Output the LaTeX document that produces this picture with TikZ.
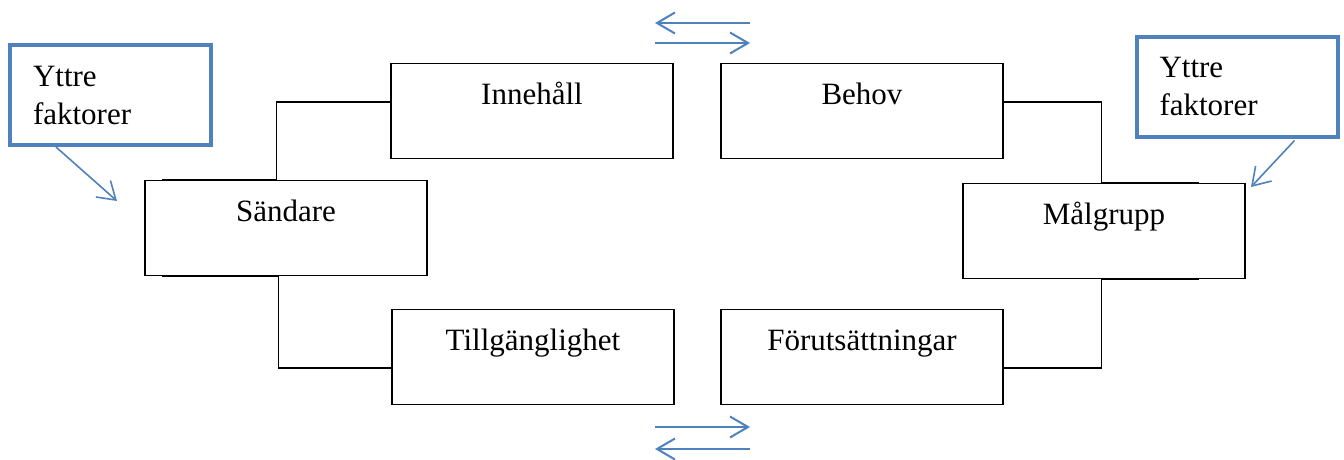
\documentclass[tikz,border=0pt]{standalone}
\usepackage{fontspec}
\setmainfont{Liberation Serif}
\usetikzlibrary{arrows.meta,calc}
\definecolor{cblue}{RGB}{79,129,189}
\begin{document}
\begin{tikzpicture}[x=1pt,y=-1pt,
  box/.style={draw, line width=1.2pt, minimum width=282pt, minimum height=95pt,
    inner sep=0pt, text height=41pt, text depth=54pt, font=\fontsize{31}{38}\selectfont},
  conn/.style={draw, line width=1.5pt},
  callout/.style={draw=cblue, line width=4pt, minimum height=100pt, inner xsep=23pt,
    inner ysep=0pt, text width=155pt, align=left, font=\fontsize{31}{38}\selectfont},
  carrow/.style={draw=cblue, line width=1.6pt, -{Straight Barb[length=17pt,width=22pt,line width=1.6pt]}},
  darrow/.style={draw=cblue, line width=2pt, -{Straight Barb[length=18pt,width=21pt,line width=2pt]}}
]
\useasboundingbox (0,0) rectangle (1344,459);

\node[box] (sand) at (286,228) {Sändare};
\node[box] (inn) at (532,111) {Innehåll};
\node[box] (till) at (533,357) {Tillgänglighet};
\node[box] (beh) at (862,111) {Behov};
\node[box] (for) at (862,357) {Förutsättningar};
\node[box] (mal) at (1104,231) {Målgrupp};

\draw[conn] ($(inn.west)+(0,-9)$) -- ++(-114,0) |- ($(sand.north west)+(18,0)$);
\draw[conn] ($(sand.south west)+(18,0)$) -- ++(116,0) |- ($(till.west)+(0,11)$);
\draw[conn] ($(beh.east)+(0,-9)$) -- ++(98,0) |- ($(mal.north east)+(-47,0)$);
\draw[conn] ($(mal.south east)+(-47,0)$) -- ++(-97,0) |- ($(for.east)+(0,11)$);

\node[callout] (yl) at (110.5,95) {Yttre\\faktorer};
\node[callout] (yr) at (1237,86.5) {Yttre\\faktorer};

\coordinate (lt) at (117,201);
\coordinate (rt) at (1251,187);
\draw[carrow] ($(yl.south west)+(48,0)$) -- (lt);
\draw[carrow] ($(yr.south west)+(160,2)$) -- (rt);

\coordinate (t1a) at (750,23);
\coordinate (t1b) at (655,23);
\coordinate (t2a) at (655,43);
\coordinate (t2b) at (750,43);
\coordinate (b1a) at (655,427);
\coordinate (b1b) at (750,427);
\coordinate (b2a) at (750,449);
\coordinate (b2b) at (655,449);
\draw[darrow] (t1a) -- (t1b);
\draw[darrow] (t2a) -- (t2b);
\draw[darrow] (b1a) -- (b1b);
\draw[darrow] (b2a) -- (b2b);
\end{tikzpicture}
\end{document}
